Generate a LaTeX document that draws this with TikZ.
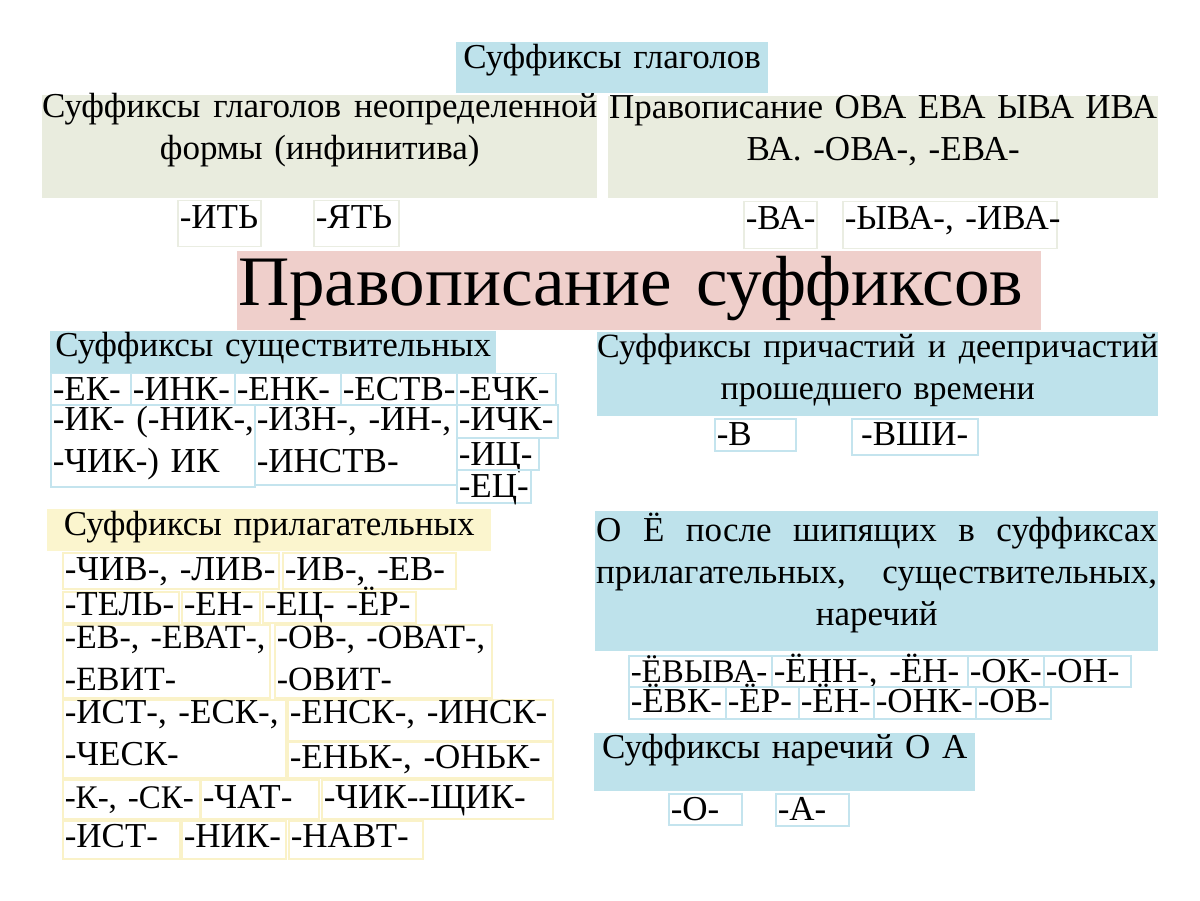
\documentclass[tikz,border=0pt]{standalone}
\usepackage{fontspec}
\setmainfont{Liberation Serif}
\exhyphenpenalty=10000
\hyphenpenalty=10000
\definecolor{headblue}{RGB}{190,226,235}
\definecolor{verbgreen}{RGB}{233,236,222}
\definecolor{titlepink}{RGB}{239,207,203}
\definecolor{adjyellow}{RGB}{251,245,206}
\definecolor{nounline}{RGB}{196,228,238}
\definecolor{adjline}{RGB}{250,242,200}
\definecolor{verbline}{RGB}{234,237,226}
\begin{document}
\begin{tikzpicture}[x=1pt, y=-1pt,
    every node/.style={anchor=north west, inner ysep=0pt, font=\fontsize{35}{42}\selectfont},
    head/.style={inner xsep=0pt, align=center, fill=headblue},
    cell/.style={inner xsep=2pt, align=left, line width=1.5pt},
    nbox/.style={cell, draw=nounline},
    abox/.style={cell, draw=adjline},
    vbox/.style={cell, draw=verbline}]
  \useasboundingbox (0,0) rectangle (1200,901);
  % глаголы
  \node[head, text width=312pt, text height=26pt, text depth=25pt] (glag) at (456,42) {Суффиксы глаголов};
  \node[head, fill=verbgreen, text width=555pt, text height=22pt, text depth=81pt] (inf) at (42,95)
    {\makebox[555pt][s]{Суффиксы\hfill глаголов\hfill неопределенной}\\формы (инфинитива)};
  \node[head, fill=verbgreen, text width=550pt, text height=22pt, text depth=80pt] (ova) at (608,96)
    {\makebox[548pt][s]{Правописание\hfill ОВА\hfill ЕВА\hfill ЫВА\hfill ИВА}\\ВА. -ОВА-, -ЕВА-};
  \node[vbox, text width=79pt, text height=28pt, text depth=18pt] (it) at (177,200) {-ИТЬ};
  \node[vbox, text width=81pt, text height=28pt, text depth=18pt] (yat) at (313,200) {-ЯТЬ};
  \node[vbox, text width=69pt, text height=28pt, text depth=19pt] (va) at (743,201) {-ВА-};
  \node[vbox, text width=210pt, text height=28pt, text depth=19pt] (yva) at (842,201) {-ЫВА-,~-ИВА-};
  % заголовок
  \node[inner xsep=1pt, fill=titlepink, text width=802pt, text height=54pt, text depth=25pt,
    font=\fontsize{71}{80}\selectfont] (title) at (237,251) {Правописание суффиксов};
  % существительные
  \node[head, text width=446pt, text height=25pt, text depth=17pt] (noun) at (50,331) {Суффиксы существительных};
  \node[nbox, text width=76pt, text height=27pt, text depth=4pt] (ek) at (50,373) {-ЕК-};
  \node[nbox, text width=100pt, text height=27pt, text depth=4pt] (ink) at (130,373) {-ИНК-};
  \node[nbox, text width=102pt, text height=27pt, text depth=4pt] (enk) at (234,373) {-ЕНК-};
  \node[nbox, text width=112pt, text height=27pt, text depth=4pt] (estv) at (340,373) {-ЕСТВ-};
  \node[nbox, text width=95pt, text height=27pt, text depth=4pt] (echk) at (456,373) {-ЕЧК-};
  \node[nbox, text width=200pt, text height=26pt, text depth=56pt] (ik) at (50,404) {-ИК-~(-НИК-,\\-ЧИК-)~ИК};
  \node[nbox, text width=198pt, text height=26pt, text depth=54pt] (izn) at (254,404) {-ИЗН-,~-ИН-,\\-ИНСТВ-};
  \node[nbox, text width=97pt, text height=26pt, text depth=7pt] (ichk) at (456,404) {-ИЧК-};
  \node[nbox, text width=78pt, text height=28pt, text depth=4pt] (ic) at (456,437) {-ИЦ-};
  \node[nbox, text width=70pt, text height=28pt, text depth=5pt] (ec) at (456,469) {-ЕЦ-};
  % причастия
  \node[head, text width=561pt, text height=25pt, text depth=59pt, font=\fontsize{34}{42}\selectfont] (part) at (597,332)
    {\makebox[561pt][s]{Суффиксы\hfill причастий\hfill и\hfill деепричастий}\\прошедшего времени};
  \node[nbox, text width=77pt, text height=27pt, text depth=5pt] (v) at (714,418) {-В};
  \node[nbox, align=center, text width=122pt, text height=27pt, text depth=9pt] (vshi) at (851,418) {-ВШИ-};
  % прилагательные
  \node[head, fill=adjyellow, text width=444pt, text height=26pt, text depth=16pt] (adj) at (47,509) {Суффиксы прилагательных};
  \node[abox, text width=212pt, text height=28pt, text depth=8pt] (chiv) at (62,552) {-ЧИВ-,~-ЛИВ-};
  \node[abox, text width=169pt, text height=28pt, text depth=8pt] (iv) at (282,552) {-ИВ-,~-ЕВ-};
  \node[abox, text width=112pt, text height=24pt, text depth=7pt] (tel) at (62,591) {-ТЕЛЬ-};
  \node[abox, text width=74pt, text height=24pt, text depth=7pt] (en) at (181,591) {-ЕН-};
  \node[abox, text width=149pt, text height=24pt, text depth=7pt] (ecer) at (262,591) {-ЕЦ-~-ЁР-};
  \node[abox, text width=203pt, text height=24pt, text depth=49pt, font=\fontsize{34}{42}\selectfont] (ev) at (62,624) {-ЕВ-,~-ЕВАТ-,\\-ЕВИТ-};
  \node[abox, text width=213pt, text height=24pt, text depth=49pt, font=\fontsize{34}{42}\selectfont] (ov) at (274,624) {-ОВ-,~-ОВАТ-,\\-ОВИТ-};
  \node[abox, text width=219pt, text height=24pt, text depth=54pt] (isk) at (62,699) {-ИСТ-,~-ЕСК-,\\-ЧЕСК-};
  \node[abox, text width=261pt, text height=24pt, text depth=17pt] (ensk) at (287,699) {-ЕНСК-,~-ИНСК-};
  \node[abox, text width=261pt, text height=27pt, text depth=9pt] (enk2) at (287,741) {-ЕНЬК-,~-ОНЬК-};
  \node[abox, text width=133pt, text height=29pt, text depth=10pt, font=\fontsize{33}{42}\selectfont] (k) at (62,779) {-К-,~-СК-};
  \node[abox, text width=114pt, text height=29pt, text depth=10pt] (chat) at (200,779) {-ЧАТ-};
  \node[abox, text width=227pt, text height=29pt, text depth=10pt] (chik) at (321,779) {-ЧИК-{}-ЩИК-};
  \node[abox, text width=113pt, text height=27pt, text depth=11pt] (ist) at (62,820) {-ИСТ-};
  \node[abox, text width=100pt, text height=27pt, text depth=11pt] (nik) at (181,820) {-НИК-};
  \node[abox, text width=130pt, text height=27pt, text depth=11pt] (navt) at (288,820) {-НАВТ-};
  % О Ё после шипящих
  \node[head, text width=563pt, text height=30pt, text depth=110pt] (oyo) at (595,511)
    {\makebox[561pt][s]{О\hfill Ё\hfill после\hfill шипящих\hfill в\hfill суффиксах}\\
     \makebox[561pt][s]{прилагательных,\hfill существительных,}\\наречий};
  \node[nbox, text width=139pt, text height=27pt, text depth=4pt, font=\fontsize{33}{42}\selectfont] (evyva) at (628,655) {-ЁВЫВА-};
  \node[nbox, text width=192pt, text height=27pt, text depth=4pt] (enn) at (771,655) {-ЁНН-,~-ЁН-};
  \node[nbox, text width=72pt, text height=27pt, text depth=4pt] (ok) at (967,655) {-ОК-};
  \node[nbox, text width=83pt, text height=27pt, text depth=4pt] (on) at (1043,655) {-ОН-};
  \node[nbox, text width=93pt, text height=26pt, text depth=6pt] (evk) at (628,686) {-ЁВК-};
  \node[nbox, text width=69pt, text height=26pt, text depth=6pt] (er) at (725,686) {-ЁР-};
  \node[nbox, text width=71pt, text height=26pt, text depth=6pt] (yon) at (798,686) {-ЁН-};
  \node[nbox, text width=98pt, text height=26pt, text depth=6pt] (onk) at (873,686) {-ОНК-};
  \node[nbox, text width=71pt, text height=26pt, text depth=6pt] (ovo) at (975,686) {-ОВ-};
  % наречия
  \node[head, text width=381pt, text height=25pt, text depth=33pt] (adv) at (594,733) {Суффиксы наречий О А};
  \node[nbox, text width=69pt, text height=27pt, text depth=4pt] (o) at (668,793) {-О-};
  \node[nbox, text width=69pt, text height=27pt, text depth=5pt] (a) at (775,793) {-А-};
\end{tikzpicture}
\end{document}
